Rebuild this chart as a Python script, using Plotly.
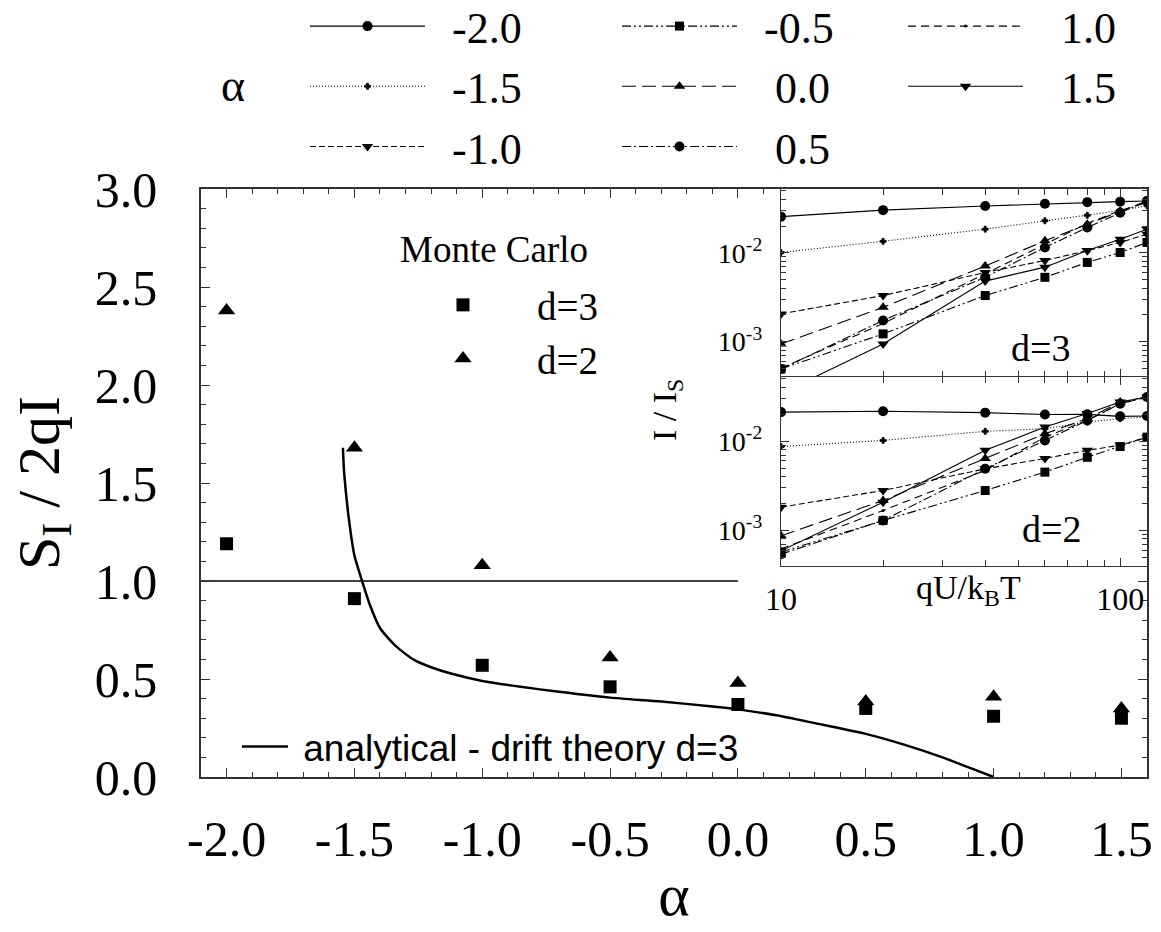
import math
import plotly.graph_objects as go

# ---------------- main panel data ----------------
ALPHA = [-2.0, -1.5, -1.0, -0.5, 0.0, 0.5, 1.0, 1.5]
MC_D3 = [1.19, 0.91, 0.57, 0.46, 0.37, 0.35, 0.31, 0.30]
MC_D2 = [2.38, 1.68, 1.08, 0.61, 0.48, 0.385, 0.41, 0.35]

THEORY_ALPHA = [-1.545, -1.54, -1.52, -1.50, -1.47, -1.44, -1.40, -1.34, -1.27, -1.20,
                -1.10, -1.00, -0.85, -0.70, -0.50, -0.30, -0.10, 0.00, 0.15, 0.30,
                0.50, 0.65, 0.80, 0.90, 1.00]
THEORY_S = [1.68, 1.55, 1.30, 1.13, 1.00, 0.88, 0.76, 0.67, 0.60, 0.56,
            0.52, 0.49, 0.46, 0.435, 0.405, 0.385, 0.36, 0.345, 0.315, 0.275,
            0.22, 0.165, 0.10, 0.05, 0.0]

UNITY_ALPHA = [-2.1, 0.0]
UNITY_S = [1.0, 1.0]

X_TICK_VALS = [-2.0, -1.5, -1.0, -0.5, 0.0, 0.5, 1.0, 1.5]
X_TICK_TEXT = ["-2.0", "-1.5", "-1.0", "-0.5", "0.0", "0.5", "1.0", "1.5"]
Y_TICK_VALS = [0.0, 0.5, 1.0, 1.5, 2.0, 2.5, 3.0]
Y_TICK_TEXT = ["0.0", "0.5", "1.0", "1.5", "2.0", "2.5", "3.0"]

# ---------------- inset data (I / I_S vs qU/kBT) ----------------
QU = [10, 20, 40, 60, 80, 100, 120]
SERIES_ALPHA = ["-2.0", "-1.5", "-1.0", "-0.5", "0.0", "0.5", "1.0", "1.5"]

D3_M20 = [0.0256, 0.0303, 0.0338, 0.0358, 0.0373, 0.0378, 0.0385]
D3_M15 = [0.0101, 0.0135, 0.0185, 0.0230, 0.0265, 0.0300, 0.0340]
D3_M10 = [0.00205, 0.0033, 0.0060, 0.0082, 0.0106, 0.0131, 0.0162]
D3_M05 = [0.00049, 0.00122, 0.0033, 0.0053, 0.0078, 0.0101, 0.0131]
D3_P00 = [0.00094, 0.00243, 0.0071, 0.0137, 0.0210, 0.0290, 0.0385]
D3_P05 = [0.00049, 0.00173, 0.0053, 0.0115, 0.0193, 0.0284, 0.0385]
D3_P10 = [0.00050, 0.0016, 0.0058, 0.0125, 0.0215, 0.0300, 0.0370]
D3_P15 = [0.00026, 0.00094, 0.0048, 0.0069, 0.0106, 0.0142, 0.0185]

D2_M20 = [0.0212, 0.0217, 0.0209, 0.0199, 0.0200, 0.0190, 0.0192]
D2_M15 = [0.0087, 0.0102, 0.0129, 0.0138, 0.0164, 0.0179, 0.0187]
D2_M10 = [0.00182, 0.0028, 0.0049, 0.0064, 0.0079, 0.0090, 0.0111]
D2_M05 = [0.00057, 0.00129, 0.0028, 0.0045, 0.0066, 0.0087, 0.0111]
D2_P00 = [0.00087, 0.00216, 0.0064, 0.0121, 0.0179, 0.0275, 0.0313]
D2_P05 = [0.00054, 0.00129, 0.0049, 0.0102, 0.0171, 0.0263, 0.0313]
D2_P10 = [0.00062, 0.00167, 0.0047, 0.0111, 0.0171, 0.0263, 0.0313]
D2_P15 = [0.00059, 0.00207, 0.0079, 0.0144, 0.0204, 0.0275, 0.0313]

INSET_X_TICK_VALS = [10, 100]
INSET_X_TICK_TEXT = ["10", "100"]
INSET_Y_TICK_VALS = [1e-3, 1e-2]
INSET_Y_TICK_TEXT = ["10<sup>-3</sup>", "10<sup>-2</sup>"]

D3_SERIES = [D3_M20, D3_M15, D3_M10, D3_M05, D3_P00, D3_P05, D3_P10, D3_P15]
D2_SERIES = [D2_M20, D2_M15, D2_M10, D2_M05, D2_P00, D2_P05, D2_P10, D2_P15]

# ---------------- styles ----------------
SERIF = "Liberation Serif, Times New Roman, serif"
SANS = "Liberation Sans, Arial, sans-serif"
INK = "black"
FRAME = "#333333"

DASHES = ["solid", "1px,2px", "6px,3px", "9px,3px,2px,3px,2px,3px",
          "14px,6px", "9px,3px,2px,3px", "8px,5px", "solid"]
SYMBOLS = ["circle", "cross", "triangle-down", "square",
           "triangle-up", "circle", "circle", "triangle-down"]
SIZES = [10, 5, 10, 9, 10, 10, 3, 10]
LEGEND_COL = ["legend", "legend", "legend", "legend4", "legend4", "legend4",
              "legend5", "legend5"]

W, H = 1161, 932


def px_x(p):
    return p / W


def px_y(p):
    return 1 - p / H


fig = go.Figure()

# main panel
fig.add_trace(go.Scatter(x=UNITY_ALPHA, y=UNITY_S, mode="lines",
                         line=dict(color=INK, width=1.4), showlegend=False,
                         xaxis="x", yaxis="y"))
fig.add_trace(go.Scatter(x=THEORY_ALPHA, y=THEORY_S, mode="lines",
                         line=dict(color=INK, width=2.5, shape="spline", smoothing=0.6),
                         name="\u00a0analytical - drift theory d=3",
                         legend="legend3", xaxis="x", yaxis="y"))
fig.add_trace(go.Scatter(x=ALPHA, y=MC_D3, mode="markers",
                         marker=dict(symbol="square", size=13, color=INK),
                         name="d=3", legend="legend2", xaxis="x", yaxis="y"))
fig.add_trace(go.Scatter(x=ALPHA, y=MC_D2, mode="markers",
                         marker=dict(symbol="triangle-up", size=15, color=INK),
                         name="d=2", legend="legend2", xaxis="x", yaxis="y"))

# inset panels
for i, lab in enumerate(SERIES_ALPHA):
    pad = "\u00a0\u00a0" if lab.startswith("-") else "\u00a0\u00a0\u00a0"
    common = dict(mode="lines+markers",
                  line=dict(color=INK, width=1.1, dash=DASHES[i]),
                  marker=dict(symbol=SYMBOLS[i], size=SIZES[i], color=INK,
                              line=dict(width=0.8 if SYMBOLS[i] == "cross" else 0, color=INK)))
    fig.add_trace(go.Scatter(x=QU, y=D3_SERIES[i], name=pad + lab, legend=LEGEND_COL[i],
                             xaxis="x2", yaxis="y2", **common))
    fig.add_trace(go.Scatter(x=QU, y=D2_SERIES[i], name=pad + lab, showlegend=False,
                             xaxis="x3", yaxis="y3", **common))

main_axis = dict(showline=True, linecolor=FRAME, linewidth=1.6, mirror="ticks",
                 ticks="inside", ticklen=9, tickwidth=1.4, tickcolor=FRAME,
                 showgrid=False, zeroline=False,
                 tickfont=dict(family=SERIF, size=50, color=INK))

minor_log = [k * 10 ** e for e in (-4, -3, -2) for k in range(2, 10)]
inset_axis = dict(showline=True, linecolor=FRAME, linewidth=1.4, mirror="ticks",
                  ticks="inside", ticklen=8, tickwidth=1.2, tickcolor=FRAME,
                  showgrid=False, zeroline=False)

alpha_legend = dict(xanchor="left", yanchor="top", y=1 + 9 / H, itemwidth=115,
                    bgcolor="rgba(0,0,0,0)", tracegroupgap=0,
                    font=dict(family=SERIF, size=44, color=INK))

fig.update_layout(
    width=W, height=H,
    margin=dict(l=0, r=0, t=0, b=0, autoexpand=False),
    paper_bgcolor="white", plot_bgcolor="white",
    font=dict(family=SERIF, color=INK),
    xaxis=dict(domain=[px_x(201), px_x(1147)], range=[-2.1, 1.6], anchor="y",
               tickvals=X_TICK_VALS, ticktext=X_TICK_TEXT, ticklabelstandoff=17,
               minor=dict(ticks="inside", ticklen=5, tickcolor=FRAME, dtick=0.1, tick0=0),
               title=dict(text="\u03b1", font=dict(family=SERIF, size=60), standoff=7),
               **main_axis),
    yaxis=dict(domain=[px_y(777), px_y(189)], range=[0, 3], anchor="x",
               tickvals=Y_TICK_VALS, ticktext=Y_TICK_TEXT, ticklabelstandoff=32,
               minor=dict(ticks="inside", ticklen=5, tickcolor=FRAME, dtick=0.1, tick0=0),
               title=dict(text="S<sub>I</sub> / 2qI", font=dict(family=SERIF, size=60), standoff=16),
               **main_axis),
    xaxis2=dict(domain=[px_x(781), px_x(1147)], type="log", range=[1, math.log10(120)],
                anchor="y2", tickvals=INSET_X_TICK_VALS, showticklabels=False,
                minor=dict(ticks="inside", ticklen=6, tickcolor=FRAME,
                           tickvals=[20, 30, 40, 50, 60, 70, 80, 90]),
                **inset_axis),
    yaxis2=dict(domain=[px_y(377), px_y(189)], type="log", range=[-3.40, -1.28],
                anchor="x2", tickvals=INSET_Y_TICK_VALS, ticktext=INSET_Y_TICK_TEXT,
                ticklabelstandoff=12, tickfont=dict(family=SERIF, size=28, color=INK),
                minor=dict(ticks="inside", ticklen=5, tickcolor=FRAME, tickvals=minor_log),
                **inset_axis),
    xaxis3=dict(domain=[px_x(781), px_x(1147)], type="log", range=[1, math.log10(120)],
                anchor="y3", tickvals=INSET_X_TICK_VALS, ticktext=INSET_X_TICK_TEXT,
                ticklabelstandoff=4, tickfont=dict(family=SERIF, size=32, color=INK),
                minor=dict(ticks="inside", ticklen=6, tickcolor=FRAME,
                           tickvals=[20, 30, 40, 50, 60, 70, 80, 90]),
                **inset_axis),
    yaxis3=dict(domain=[px_y(566), px_y(377)], type="log", range=[-3.40, -1.28],
                anchor="x3", tickvals=INSET_Y_TICK_VALS, ticktext=INSET_Y_TICK_TEXT,
                ticklabelstandoff=12, tickfont=dict(family=SERIF, size=28, color=INK),
                minor=dict(ticks="inside", ticklen=5, tickcolor=FRAME, tickvals=minor_log),
                **inset_axis),
    legend=dict(x=px_x(305), **alpha_legend),
    legend4=dict(x=px_x(617), **alpha_legend),
    legend5=dict(x=px_x(903), **alpha_legend),
    legend2=dict(x=px_x(389), y=px_y(273), xanchor="left", yanchor="top",
                 itemwidth=138, bgcolor="rgba(0,0,0,0)",
                 font=dict(family=SERIF, size=39, color=INK)),
    legend3=dict(x=px_x(237), y=px_y(716), xanchor="left", yanchor="top",
                 itemwidth=46, bgcolor="rgba(0,0,0,0)",
                 font=dict(family=SANS, size=37, color=INK)),
)

ann = dict(xref="paper", yref="paper", showarrow=False, xanchor="center", yanchor="middle")
annotations = [
    dict(text="\u03b1", x=px_x(233), y=px_y(86),
         font=dict(family=SERIF, size=46, color=INK), **ann),
    dict(text="Monte Carlo", x=px_x(494), y=px_y(249),
         font=dict(family=SERIF, size=37, color=INK), **ann),
    dict(text="I / I<sub>S</sub>", x=px_x(667), y=px_y(410), textangle=-90,
         font=dict(family=SERIF, size=34, color=INK), **ann),
    dict(text="qU/k<sub>B</sub>T", x=px_x(968), y=px_y(590),
         font=dict(family=SERIF, size=34, color=INK), **ann),
    dict(text="d=3", x=px_x(1040), y=px_y(348),
         font=dict(family=SERIF, size=38, color=INK), **ann),
    dict(text="d=2", x=px_x(1051), y=px_y(529),
         font=dict(family=SERIF, size=38, color=INK), **ann),
]
fig.update_layout(annotations=annotations)

fig.write_html("out.html")
